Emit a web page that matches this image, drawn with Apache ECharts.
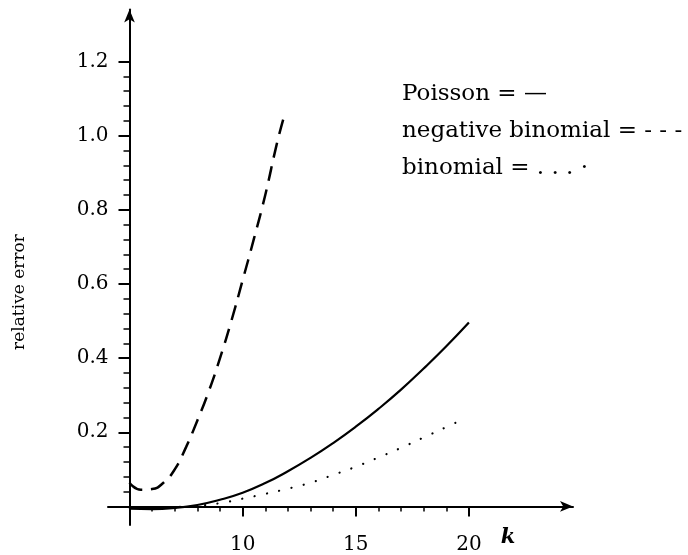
<!DOCTYPE html>
<html>
<head>
<meta charset="utf-8">
<script src="https://cdn.jsdelivr.net/npm/echarts@6/dist/echarts.min.js"></script>
<style>
html,body{margin:0;padding:0;background:#fff;}
#chart{width:688px;height:555px;}
</style>
</head>
<body>
<div id="chart"></div>
<script>
// ---- data ----
const poissonK = [5, 6, 7, 8, 9, 10, 11, 12, 13, 14, 15, 16, 17, 18, 19, 20];
const poissonErr = [-0.006, -0.007, -0.004, 0.004, 0.018, 0.037, 0.063, 0.095, 0.131, 0.171, 0.215, 0.263, 0.315, 0.372, 0.432, 0.496];

const negBinK = [5, 5.5, 6, 6.5, 7, 7.5, 8, 8.5, 9, 9.5, 10, 10.5, 11, 11.5, 11.8];
const negBinErr = [0.064, 0.045, 0.047, 0.064, 0.1, 0.16, 0.232, 0.31, 0.4, 0.5, 0.61, 0.722, 0.84, 0.975, 1.045];

const binomK = [5, 6, 7, 8, 9, 10, 11, 12, 13, 14, 15, 16, 17, 18, 19, 19.7];
const binomErr = [-0.003, -0.004, -0.002, 0.002, 0.009, 0.021, 0.034, 0.048, 0.064, 0.085, 0.107, 0.132, 0.158, 0.186, 0.214, 0.234];

const xMajorTicks = [10, 15, 20];
const xMinorTicks = [6, 7, 8, 9, 11, 12, 13, 14, 16, 17, 18, 19];
const yMajorTicks = [0.2, 0.4, 0.6, 0.8, 1.0, 1.2];
const yMinorTicks = [0.04, 0.08, 0.12, 0.16, 0.24, 0.28, 0.32, 0.36, 0.44, 0.48, 0.52, 0.56,
                     0.64, 0.68, 0.72, 0.76, 0.84, 0.88, 0.92, 0.96, 1.04, 1.08, 1.12, 1.16];

const legendLines = ['Poisson = \u2014', 'negative binomial = - - -', 'binomial = . . . \u00b7'];
const xName = 'k';
const yName = 'relative error';

// ---- layout ----
const xMin = 4.05, xMax = 24.6, yCross = 5;
const yMin = -0.05, yMax = 1.34;
const gridLeft = 108, gridTop = 9.5, gridW = 465, gridH = 521.25;
const yOffset = -gridW * (yCross - xMin) / (xMax - xMin);
const FONT = 'DejaVu Serif';

const chart = echarts.init(document.getElementById('chart'), null, {renderer: 'canvas'});
const pair = (ks, vs) => ks.map((k, i) => [k, vs[i]]);
const axisLineStyle = {color: '#000', width: 2};

chart.setOption({
  animation: false,
  backgroundColor: '#fff',
  grid: {left: gridLeft, top: gridTop, width: gridW, height: gridH, containLabel: false},
  xAxis: [
    {
      type: 'value', min: xMin, max: xMax,
      axisLine: {show: true, onZero: true, symbol: ['none', 'arrow'], symbolSize: [8, 13], lineStyle: axisLineStyle},
      axisTick: {show: true, customValues: xMajorTicks, length: 10, inside: false, lineStyle: {color: '#000', width: 2}},
      axisLabel: {show: true, customValues: xMajorTicks, margin: 10, color: '#000', fontFamily: FONT, fontSize: 20},
      splitLine: {show: false}
    },
    {
      type: 'value', min: xMin, max: xMax, position: 'bottom',
      axisLine: {show: false, onZero: true},
      axisTick: {show: true, customValues: xMinorTicks, length: 5, inside: false, lineStyle: {color: '#000', width: 1.5}},
      axisLabel: {show: false},
      splitLine: {show: false}
    }
  ],
  yAxis: [
    {
      type: 'value', min: yMin, max: yMax, offset: yOffset,
      axisLine: {show: true, onZero: false, symbol: ['none', 'arrow'], symbolSize: [8, 13], lineStyle: axisLineStyle},
      axisTick: {show: true, customValues: yMajorTicks, length: 11, inside: false, lineStyle: {color: '#000', width: 2}},
      axisLabel: {show: true, customValues: yMajorTicks, margin: 21, color: '#000', fontFamily: FONT, fontSize: 20,
                  formatter: v => v.toFixed(1)},
      splitLine: {show: false}
    },
    {
      type: 'value', min: yMin, max: yMax, offset: yOffset, position: 'left',
      axisLine: {show: false, onZero: false},
      axisTick: {show: true, customValues: yMinorTicks, length: 6, inside: false, lineStyle: {color: '#000', width: 1.5}},
      axisLabel: {show: false},
      splitLine: {show: false}
    }
  ],
  series: [
    {
      name: 'Poisson', type: 'line', xAxisIndex: 0, yAxisIndex: 0,
      data: pair(poissonK, poissonErr), smooth: true, showSymbol: false,
      lineStyle: {color: '#000', width: 2.2}
    },
    {
      name: 'negative binomial', type: 'line', xAxisIndex: 0, yAxisIndex: 0,
      data: pair(negBinK, negBinErr), smooth: true, showSymbol: false,
      lineStyle: {color: '#000', width: 2.5, type: [15, 9]}
    },
    {
      name: 'binomial', type: 'line', xAxisIndex: 0, yAxisIndex: 0,
      data: pair(binomK, binomErr), smooth: true, showSymbol: false,
      lineStyle: {color: '#000', width: 2.2, type: [0.1, 12.5], cap: 'round'}
    }
  ],
  graphic: [
    {type: 'text', x: 402, y: 94, style: {text: legendLines[0], font: '23px "' + FONT + '"', fill: '#000', verticalAlign: 'middle'}},
    {type: 'text', x: 402, y: 131, style: {text: legendLines[1], font: '23px "' + FONT + '"', fill: '#000', verticalAlign: 'middle'}},
    {type: 'text', x: 402, y: 168, style: {text: legendLines[2], font: '23px "' + FONT + '"', fill: '#000', verticalAlign: 'middle'}},
    {type: 'text', x: 508, y: 538, style: {text: xName, font: 'italic bold 21px "' + FONT + '"', fill: '#000', align: 'center', verticalAlign: 'middle'}},
    {type: 'text', x: 20, y: 292, rotation: Math.PI / 2, style: {text: yName, font: '17px "' + FONT + '"', fill: '#000', align: 'center', verticalAlign: 'middle'}}
  ]
});
</script>
</body>
</html>
